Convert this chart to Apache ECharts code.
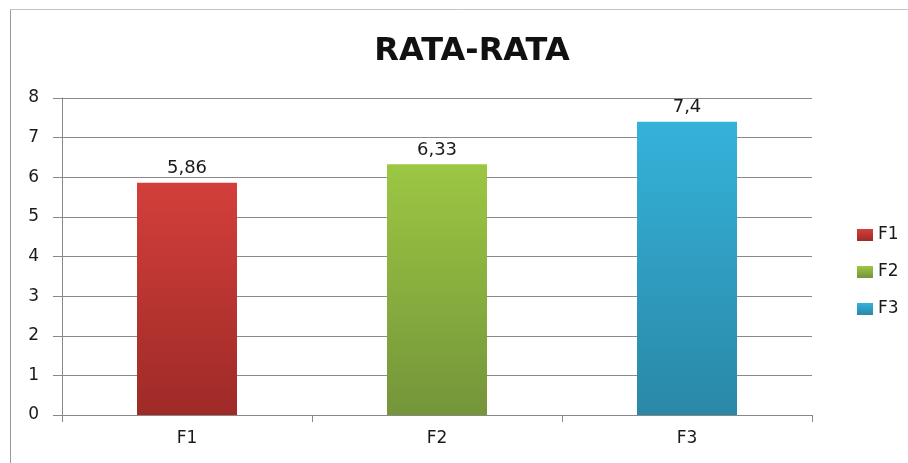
<!DOCTYPE html>
<html><head><meta charset="utf-8">
<script src="https://cdn.jsdelivr.net/npm/echarts@6/dist/echarts.min.js"></script>
<style>html,body{margin:0;padding:0;background:#fff}#c{width:908px;height:463px}</style>
</head><body><div id="c"></div>
<script>
const categories = ['F1', 'F2', 'F3'];
const seriesNames = ['F1', 'F2', 'F3'];
const values = [5.86, 6.33, 7.4];
const valueLabels = ['5,86', '6,33', '7,4'];
const yTicks = [0, 1, 2, 3, 4, 5, 6, 7, 8];

const topColors = ['#d33f3b', '#9cc743', '#35b2da'];
const bottomColors = ['#9e2a27', '#74953a', '#2a88a6'];
const FONT = 'DejaVu Sans';

const chart = echarts.init(document.getElementById('c'));
const series = seriesNames.map((name, i) => ({
  name: name,
  type: 'bar',
  barWidth: '40%',
  barGap: '-100%',
  data: categories.map((c, j) => j === i ? values[i] : '-'),
  itemStyle: {
    color: new echarts.graphic.LinearGradient(0, 0, 0, 1, [
      {offset: 0, color: topColors[i]}, {offset: 1, color: bottomColors[i]}
    ])
  },
  label: {
    show: true, position: 'top', distance: 5,
    formatter: () => valueLabels[i],
    fontFamily: FONT, fontSize: 18, color: '#1a1a1a'
  }
}));

chart.setOption({
  animation: false,
  backgroundColor: '#fff',
  title: {
    text: 'RATA-RATA', left: 467, top: 31, textAlign: 'center',
    textStyle: {fontFamily: FONT, fontWeight: 'bold', fontSize: 32, color: '#111'}
  },
  legend: {
    orient: 'vertical', left: 852, top: 220, itemGap: 17,
    itemWidth: 16, itemHeight: 12, icon: 'rect',
    textStyle: {fontFamily: FONT, fontSize: 17, lineHeight: 20, color: '#1a1a1a'},
    data: seriesNames
  },
  grid: {left: 62, right: 96, top: 98, bottom: 48},
  xAxis: {
    type: 'category', data: categories,
    axisLine: {lineStyle: {color: '#888', width: 1}},
    axisTick: {show: true, length: 7, lineStyle: {color: '#888'}},
    axisLabel: {fontFamily: FONT, fontSize: 17, color: '#1a1a1a', margin: 15}
  },
  yAxis: {
    type: 'value', min: yTicks[0], max: yTicks[yTicks.length - 1], interval: 1,
    axisLine: {show: true, lineStyle: {color: '#888'}},
    axisTick: {show: true, length: 9, lineStyle: {color: '#888'}},
    axisLabel: {fontFamily: FONT, fontSize: 17, color: '#1a1a1a', margin: 23},
    splitLine: {lineStyle: {color: '#8a8a8a', width: 1}}
  },
  graphic: [
    {type: 'line', shape: {x1: 10.5, y1: 9.5, x2: 908, y2: 9.5}, style: {stroke: '#c4c4c4', lineWidth: 1}},
    {type: 'line', shape: {x1: 10.5, y1: 9.5, x2: 10.5, y2: 463}, style: {stroke: '#999', lineWidth: 1}}
  ],
  series: series
});
</script></body></html>
